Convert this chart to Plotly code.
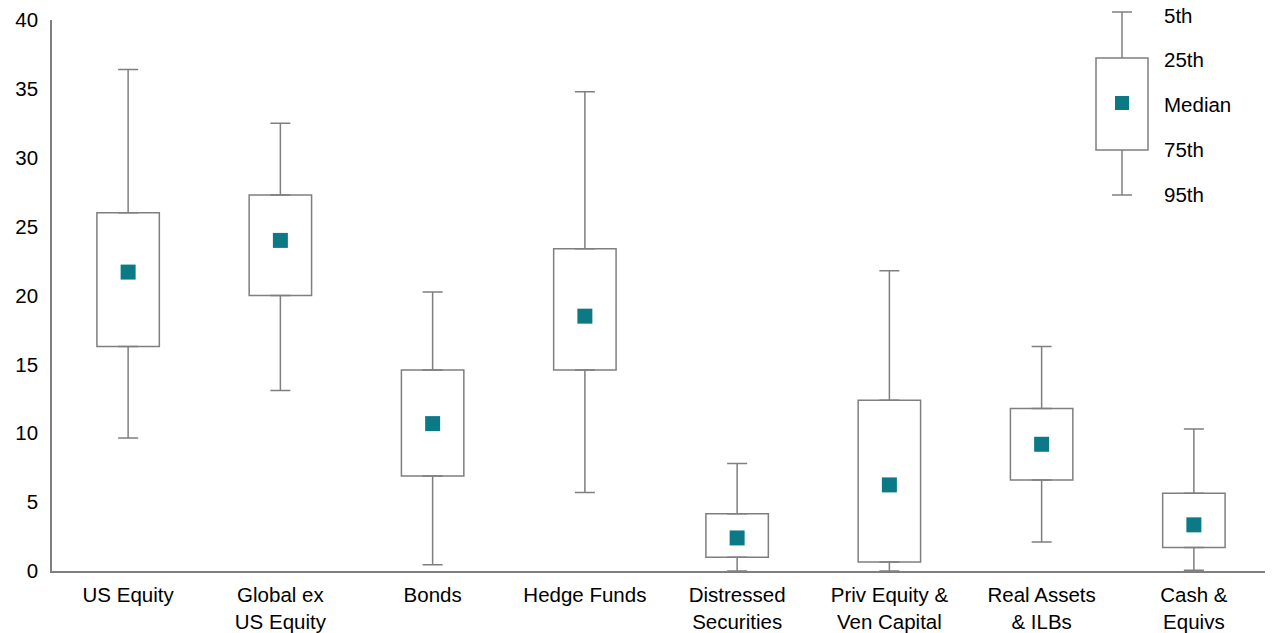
import plotly.graph_objects as go

categories = ["US Equity", "Global ex<br>US Equity", "Bonds", "Hedge Funds", "Distressed<br>Securities",
              "Priv Equity &<br>Ven Capital", "Real Assets<br>& ILBs", "Cash &<br>Equivs"]
p5 = [36.4, 32.5, 20.25, 34.8, 7.8, 21.8, 16.3, 10.3]
p25 = [26.0, 27.3, 14.6, 23.4, 4.15, 12.4, 11.8, 5.65]
median = [21.7, 24.0, 10.7, 18.5, 2.4, 6.25, 9.2, 3.35]
p75 = [16.3, 20.0, 6.9, 14.6, 1.0, 0.65, 6.6, 1.7]
p95 = [9.65, 13.1, 0.45, 5.7, 0.0, 0.0, 2.1, 0.05]

gray = "#7f7f7f"
teal = "#0b7a86"
font = dict(family="Liberation Sans, Arial", size=20.5, color="#000")

fig = go.Figure()
fig.add_trace(go.Scatter(x=categories, y=p25, mode="markers", marker=dict(size=0.1, color=gray),
                         error_y=dict(type="data", symmetric=False,
                                      array=[a - b for a, b in zip(p5, p25)], arrayminus=[0]*8,
                                      color=gray, thickness=1.5, width=10), hoverinfo="skip"))
fig.add_trace(go.Scatter(x=categories, y=p75, mode="markers", marker=dict(size=0.1, color=gray),
                         error_y=dict(type="data", symmetric=False,
                                      array=[0]*8, arrayminus=[a - b for a, b in zip(p75, p95)],
                                      color=gray, thickness=1.5, width=10), hoverinfo="skip"))
fig.add_trace(go.Bar(x=categories, y=[a - b for a, b in zip(p25, p75)], base=p75, width=0.41,
                     marker=dict(color="white", line=dict(color=gray, width=1.5))))
fig.add_trace(go.Scatter(x=categories, y=median, mode="markers",
                         marker=dict(symbol="square", size=15, color=teal)))

X0 = 51
W = 1218
def py(p):
    return (571 - p) / 551
lx = (1121 - X0) / W
hw = 26 / W
cw = 10 / W
shapes = [
    dict(type="line", xref="paper", yref="paper", x0=lx, x1=lx, y0=py(12), y1=py(58), line=dict(color=gray, width=1.5)),
    dict(type="line", xref="paper", yref="paper", x0=lx, x1=lx, y0=py(150), y1=py(195), line=dict(color=gray, width=1.5)),
    dict(type="line", xref="paper", yref="paper", x0=lx-cw, x1=lx+cw, y0=py(12), y1=py(12), line=dict(color=gray, width=1.5)),
    dict(type="line", xref="paper", yref="paper", x0=lx-cw, x1=lx+cw, y0=py(195), y1=py(195), line=dict(color=gray, width=1.5)),
    dict(type="rect", xref="paper", yref="paper", x0=lx-hw, x1=lx+hw, y0=py(150), y1=py(58), line=dict(color=gray, width=1.5), fillcolor="white"),
    dict(type="rect", xref="paper", yref="paper", x0=lx-7/W, x1=lx+7/W, y0=py(110), y1=py(96), line=dict(width=0), fillcolor=teal),
]
labels = [("5th", 16), ("25th", 59), ("Median", 104), ("75th", 149), ("95th", 194)]
annotations = [dict(text=t, xref="paper", yref="paper", x=(1161 - X0) / W, y=py(p), xanchor="left",
                    yanchor="middle", showarrow=False, font=font) for t, p in labels]

fig.update_layout(
    width=1273, height=633, margin=dict(l=44, r=11, t=12, b=70),
    plot_bgcolor="white", paper_bgcolor="white", showlegend=False, font=font,
    shapes=shapes, annotations=annotations,
    xaxis=dict(showline=True, linecolor=gray, linewidth=1.5, range=[-0.5, 7.5], ticks="", showgrid=False,
               automargin=False, ticklabelstandoff=5),
    yaxis=dict(range=[0, 40], dtick=5, showline=True, linecolor=gray, linewidth=1.5, showgrid=False,
               zeroline=False, ticks="", automargin=False, ticklabelstandoff=8),
)
fig.write_html("out.html")
